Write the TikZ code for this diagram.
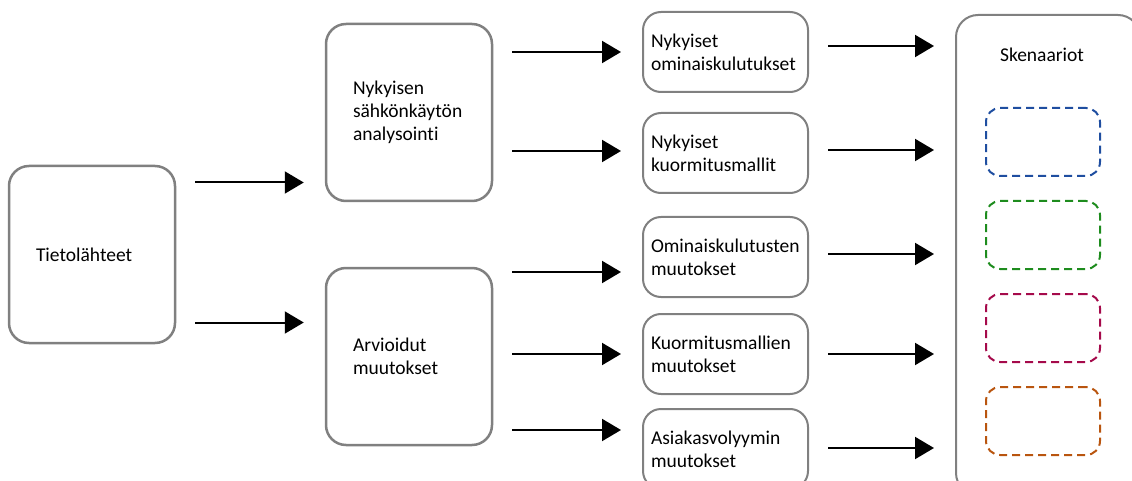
\documentclass[tikz,border=0pt]{standalone}
\usepackage{fontspec}
\setmainfont{Carlito}[Ligatures=NoCommon,RawFeature={-calt;-clig}]
\usepackage{xcolor}
\usepackage{tikz}
\usetikzlibrary{arrows.meta,positioning,calc}
\definecolor{framegray}{RGB}{128,128,128}
\definecolor{scenblue}{RGB}{31,78,160}
\definecolor{scengreen}{RGB}{30,140,30}
\definecolor{scenred}{RGB}{165,10,75}
\definecolor{scenorange}{RGB}{185,85,15}

\begin{document}
\begin{tikzpicture}[
  x=1pt, y=-1pt, node distance=23pt,
  font=\fontsize{19.5}{23}\selectfont,
  bigbox/.style={draw=framegray, line width=2.5pt, rounded corners=20pt, align=left,
               text width=112pt, inner xsep=27pt, minimum height=177pt},
  smallbox/.style={draw=framegray, line width=2pt, rounded corners=18pt, align=left,
               text width=149pt, inner xsep=8pt, minimum height=80pt},
  scenbox/.style={line width=2pt, dash pattern=on 8pt off 5pt, rounded corners=14pt,
               minimum width=114pt, minimum height=68pt},
  arr/.style={-{Triangle[length=19pt,width=22pt]}, line width=2pt,
              shorten <=19pt, shorten >=21pt}
]
\clip (0,0) rectangle (1132,481);
% sources and first stage
\node[bigbox] (tieto) at (92,254.5) {Tietolähteet};
\node[bigbox] (nyk) at (409,112.5) {Nykyisen\\ sähkönkäytön\\ analysointi};
\node[bigbox] (arvi) at (409,356.5) {Arvioidut\\ muutokset};
% second stage
\node[smallbox] (omin) at (725.5,52) {Nykyiset\\ ominaiskulutukset};
\node[smallbox,below=19pt of omin] (kuor) {Nykyiset\\ kuormitusmallit};
\node[smallbox,below=22pt of kuor] (ommu) {Ominaiskulutusten\\ muutokset};
\node[smallbox,below=15pt of ommu] (kumu) {Kuormitusmallien\\ muutokset};
\node[smallbox,below=13pt of kumu] (asia) {Asiakasvolyymin\\ muutokset};
% scenarios
\node[draw=framegray, line width=2pt, rounded corners=22pt,
      minimum width=184pt, minimum height=480pt] (skenframe) at (1048,255) {};
\node (sken) at (1042,55) {Skenaariot};
\node[scenbox, draw=scenblue] (scen1) at (1043,142) {};
\node[scenbox, draw=scengreen, below=of scen1] (scen2) {};
\node[scenbox, draw=scenred, below=of scen2] (scen3) {};
\node[scenbox, draw=scenorange, below=of scen3] (scen4) {};
% arrows
\draw[arr] ($(tieto.east)+(0,-72)$) coordinate (t1) -- (t1 -| nyk.west);
\draw[arr] ($(tieto.east)+(0,68)$) coordinate (t2) -- (t2 -| arvi.west);
\draw[arr] (nyk.east |- omin.west) -- (omin.west);
\draw[arr] ($(nyk.east |- kuor.west)+(0,-2)$) -- ($(kuor.west)+(0,-2)$);
\draw[arr] ($(arvi.east |- ommu.west)+(0,15)$) -- ($(ommu.west)+(0,15)$);
\draw[arr] (arvi.east |- kumu.west) -- (kumu.west);
\draw[arr] ($(arvi.east |- asia.west)+(0,-19)$) -- ($(asia.west)+(0,-19)$);
\draw[arr] ($(omin.east)+(0,-6)$) -- ($(skenframe.west |- omin.east)+(0,-6)$);
\draw[arr] ($(kuor.east)+(0,-3)$) -- ($(skenframe.west |- kuor.east)+(0,-3)$);
\draw[arr] ($(ommu.east)+(0,-3)$) -- ($(skenframe.west |- ommu.east)+(0,-3)$);
\draw[arr] (kumu.east) -- (skenframe.west |- kumu.east);
\draw[arr] ($(asia.east)+(0,-1)$) -- ($(skenframe.west |- asia.east)+(0,-1)$);
\end{tikzpicture}
\end{document}
